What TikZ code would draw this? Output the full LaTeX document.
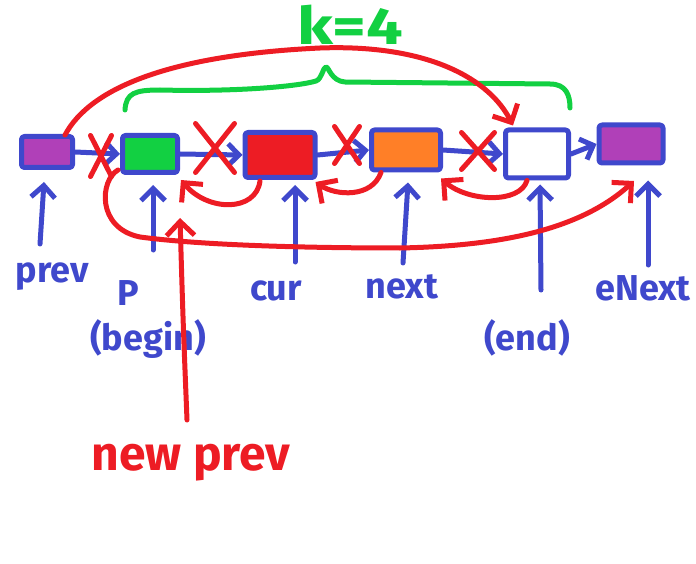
\documentclass[tikz,border=0pt]{standalone}
\usepackage{fontspec}
\setmainfont{Fira Sans}
\usetikzlibrary{arrows.meta,shapes.misc}
\definecolor{hblue}{RGB}{63,72,204}
\definecolor{hred}{RGB}{237,28,36}
\definecolor{hgreen}{RGB}{18,208,66}
\definecolor{hpurple}{RGB}{176,64,184}
\definecolor{horange}{RGB}{255,127,39}
\begin{document}
\begin{tikzpicture}[x=1pt,y=-1pt,line cap=round,line join=round,
  box/.style={draw=hblue,line width=5pt,rounded corners=3pt,inner sep=0pt},
  link/.style={hblue,line width=5pt,-{Straight Barb[length=11pt,width=22pt]}},
  ptr/.style={hblue,line width=5pt,-{Straight Barb[length=12pt,width=24pt]}},
  back/.style={hred,line width=5pt,-{Straight Barb[length=14pt,width=28pt]}},
  xmark/.style={cross out,draw=hred,line width=5pt,inner sep=0pt},
  brace/.style={hgreen,line width=5pt},
  lab/.style={text=hblue,font=\fontsize{36}{36}\selectfont\bfseries,inner sep=0pt,anchor=base},
  rlab/.style={text=hred,font=\fontsize{48}{48}\selectfont\bfseries,inner sep=0pt,anchor=base}]
\useasboundingbox (0,0) rectangle (696,564);
% boxes
\node[box,fill=hpurple,minimum width=51pt,minimum height=31pt] (prev) at (47,152) {};
\node[box,fill=hgreen,minimum width=55pt,minimum height=37pt] (p) at (150,154) {};
\node[box,fill=hred,minimum width=70pt,minimum height=45pt] (cur) at (280,155) {};
\node[box,fill=horange,minimum width=69pt,minimum height=40pt] (next) at (406,150) {};
\node[box,fill=white,minimum width=63pt,minimum height=48pt] (end) at (537,154) {};
\node[box,fill=hpurple,minimum width=64pt,minimum height=38pt] (enext) at (631,144) {};
% forward links
\draw[link] (prev.east) -- (p.west);
\draw[link] (p.east) -- (cur.west);
\draw[link] (cur.east) -- (next.west);
\draw[link] (next.east) -- (end.west);
\draw[link] (end.east) -- (enext.west);
% crosses
\node[xmark,minimum width=16pt,minimum height=36pt] (x1) at (101,156) {};
\node[xmark,minimum width=34pt,minimum height=44pt] (x2) at (215,148) {};
\node[xmark,minimum width=20pt,minimum height=32pt] (x3) at (347,145) {};
\node[xmark,minimum width=28pt,minimum height=32pt] (x4) at (478,151) {};
% labels
\node[lab] (lprev) at (52,282) {prev};
\node[lab] (lp) at (128,305) {P};
\node[lab] (lbegin) at (148,350) {(begin)};
\node[lab] (lcur) at (276,300) {cur};
\node[lab] (lnext) at (402,298) {next};
\node[lab] (lend) at (527,350) {(end)};
\node[lab] (lenext) at (643,300) {eNext};
\node[rlab] (lnew) at (191,470) {new prev};
\node[text=hgreen,font=\fontsize{52}{52}\selectfont\bfseries,inner sep=0pt,anchor=base] (lk) at (350,45) {\scalebox{1.25}[1]{k=4}};
% pointer arrows
\coordinate (tprev) at (40,244);
\coordinate (tp) at (153,250);
\coordinate (tcur) at (295,262);
\coordinate (tnext) at (403,263);
\coordinate (tend) at (541,290);
\coordinate (tenext) at (648,265);
\draw[ptr] (tprev) -- ([shift={(-3,12)}]prev.south);
\draw[ptr] (tp) -- ([shift={(3,10)}]p.south);
\draw[ptr] (tcur) -- ([shift={(15,5)}]cur.south);
\draw[ptr] (tnext) -- ([shift={(2,10)}]next.south);
\draw[ptr] (tend) -- ([shift={(3,4)}]end.south);
\draw[ptr] (tenext) -- ([shift={(17,15)}]enext.south);
% green brace
\draw[brace] (125,110) .. controls (126,93) and (135,90) .. (160,90)
  .. controls (240,92) and (300,86) .. (316,81)
  .. controls (322,79) and (323,67) .. (326,67)
  .. controls (329,67) and (331,81) .. (345,82)
  -- (550,84) .. controls (566,84) and (570,95) .. (570,108);
% red back links
\draw[back] ([shift={(-20,1)}]cur.south) .. controls (256,212) and (208,212) .. ([shift={(1,5)}]p.south east);
\draw[back] ([shift={(-25,0)}]next.south) .. controls (372,198) and (336,196) .. ([shift={(-2,2)}]cur.south east);
\draw[back] ([shift={(-10,0)}]end.south) .. controls (520,204) and (468,202) .. ([shift={(-2,6)}]next.south east);
% top arc prev -> end
\coordinate (arcmid) at (320,48);
\draw[back] ([shift={(-10,1)}]prev.north east) .. controls (90,88) and (170,55) .. (arcmid)
  .. controls (430,44) and (490,80) .. ([shift={(10,-2)}]end.north west);
% bottom curve p -> enext
\coordinate (bmid) at (400,248);
\coordinate (etip) at (634,181);
\draw[back] ([shift={(-2,-5)}]p.south west) .. controls (100,180) and (96,228) .. (140,237)
  .. controls (200,245) and (300,248) .. (bmid)
  .. controls (500,246) and (580,230) .. (etip);
% new prev
\coordinate (npt) at (187,420);
\coordinate (nph) at (180,218);
\draw[back] (npt) .. controls (183,320) .. (nph);
\end{tikzpicture}
\end{document}
